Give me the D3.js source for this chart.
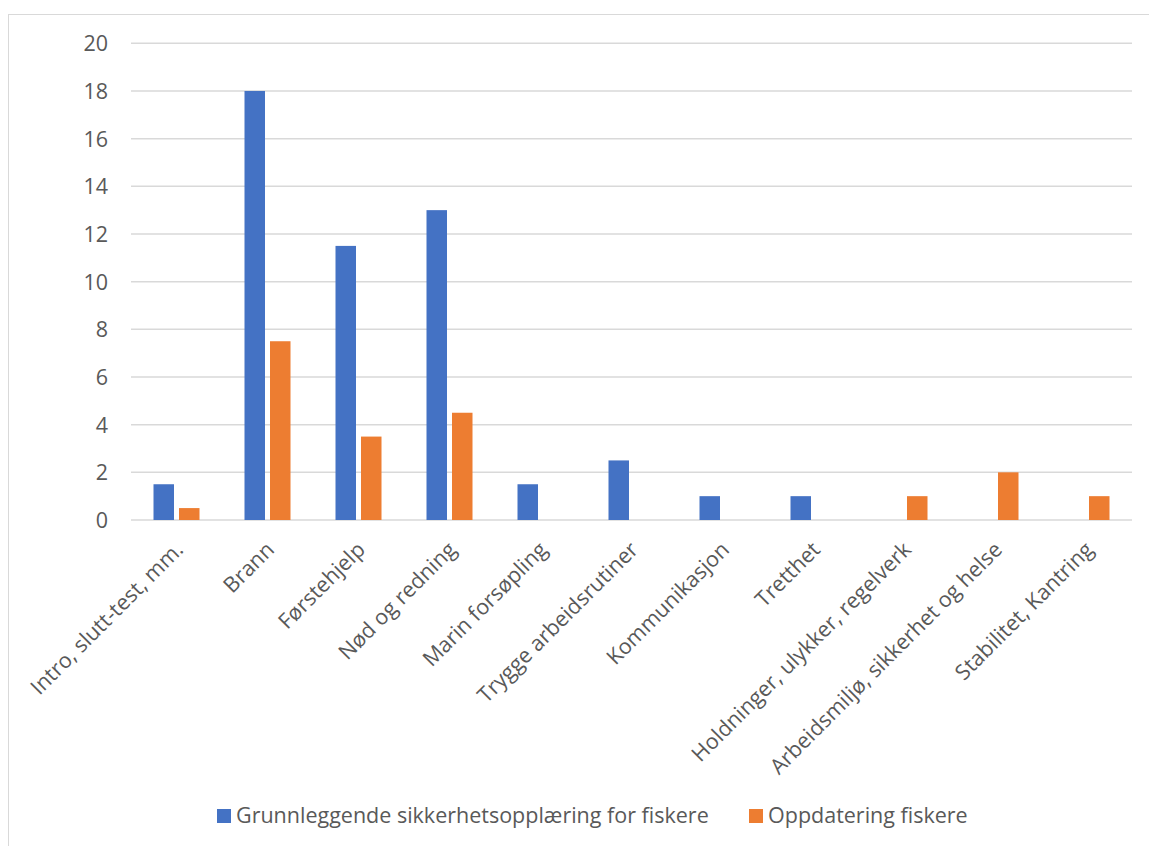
<!DOCTYPE html>
<html>
<head>
<meta charset="utf-8">
<script src="https://cdn.jsdelivr.net/npm/d3@7"></script>
<style>
  html, body { margin: 0; padding: 0; background: #fff; }
  svg text { font-family: "Open Sans", Lato, sans-serif; fill: #595959; }
</style>
</head>
<body>
<svg id="chart" width="1149" height="846"></svg>
<script>
// Course topics and hours per topic for the two fisher safety courses
const categories = [
  "Intro, slutt-test, mm.",
  "Brann",
  "Førstehjelp",
  "Nød og redning",
  "Marin forsøpling",
  "Trygge arbeidsrutiner",
  "Kommunikasjon",
  "Tretthet",
  "Holdninger, ulykker, regelverk",
  "Arbeidsmiljø, sikkerhet og helse",
  "Stabilitet, Kantring"
];
const grunnleggende = [1.5, 18, 11.5, 13, 1.5, 2.5, 1, 1, 0, 0, 0];
const oppdatering   = [0.5, 7.5, 3.5, 4.5, 0, 0, 0, 0, 1, 2, 1];
const seriesNames = ["Grunnleggende sikkerhetsopplæring for fiskere", "Oppdatering fiskere"];
const seriesColors = ["#4472c4", "#ed7d31"];
const yTicks = [0, 2, 4, 6, 8, 10, 12, 14, 16, 18, 20];

const fontSize = 21.5;
const svg = d3.select("#chart");

// outer chart frame
svg.append("rect")
  .attr("x", 8.5).attr("y", 14.5)
  .attr("width", 1160).attr("height", 850)
  .attr("fill", "none").attr("stroke", "#d9d9d9").attr("stroke-width", 1);

const x = d3.scaleBand().domain(categories).range([131, 1132]).padding(0);
const y = d3.scaleLinear().domain([0, 20]).range([520, 43.3]);

// horizontal gridlines
svg.append("g")
  .selectAll("line")
  .data(yTicks)
  .join("line")
  .attr("x1", 131).attr("x2", 1132)
  .attr("y1", d => y(d)).attr("y2", d => y(d))
  .attr("stroke", "#d9d9d9").attr("stroke-width", 1.5);

// y axis labels
const yAxis = d3.axisLeft(y).tickValues(yTicks).tickSize(0).tickPadding(0);
const gy = svg.append("g").attr("transform", "translate(108,0)").call(yAxis);
gy.select(".domain").remove();
gy.selectAll("text")
  .attr("font-size", fontSize)
  .attr("dy", "0.35em")
  .style("font-family", "'Open Sans', sans-serif")
  .attr("fill", "#595959");

// bars
const barW = 20.5;
const gap = 5;
const series = [grunnleggende, oppdatering];
series.forEach((vals, si) => {
  svg.append("g")
    .selectAll("rect")
    .data(vals.map((v, i) => ({ c: categories[i], v })))
    .join("rect")
    .filter(d => d.v > 0)
    .attr("x", d => x(d.c) + x.bandwidth() / 2 + (si === 0 ? -(barW + gap / 2) : gap / 2))
    .attr("y", d => y(d.v))
    .attr("width", barW)
    .attr("height", d => y(0) - y(d.v))
    .attr("fill", seriesColors[si]);
});

// x axis category labels, rotated
svg.append("g")
  .selectAll("text")
  .data(categories)
  .join("text")
  .attr("transform", d => `translate(${x(d) + x.bandwidth() / 2 + 8},${551}) rotate(-45)`)
  .attr("text-anchor", "end")
  .attr("font-size", fontSize)
  .text(d => d);

// legend
const legendItems = [
  { name: seriesNames[0], color: seriesColors[0], x: 217 },
  { name: seriesNames[1], color: seriesColors[1], x: 749 }
];
const lg = svg.append("g");
legendItems.forEach(it => {
  lg.append("rect")
    .attr("x", it.x).attr("y", 809)
    .attr("width", 14).attr("height", 14)
    .attr("fill", it.color);
  lg.append("text")
    .attr("x", it.x + 19).attr("y", 823)
    .attr("font-size", fontSize)
    .text(it.name);
});
</script>
</body>
</html>
